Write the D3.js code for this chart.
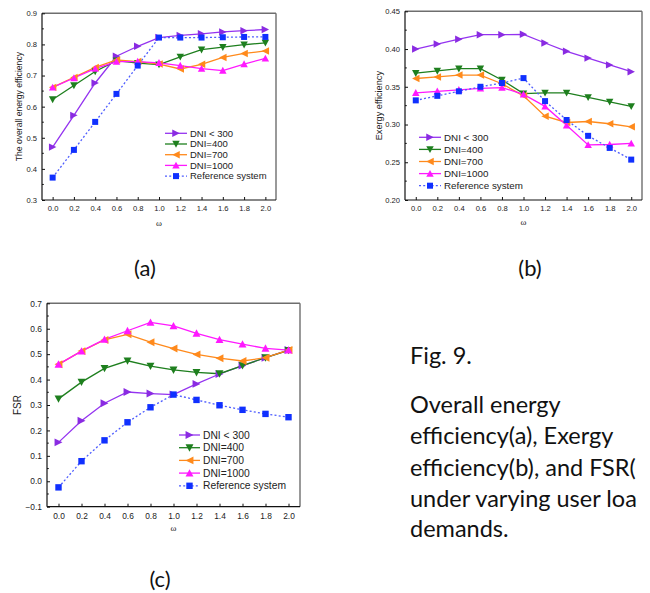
<!DOCTYPE html>
<html><head><meta charset="utf-8">
<script src="https://cdn.jsdelivr.net/npm/d3@7/dist/d3.min.js"></script>
<style>body{margin:0;background:#fff}svg{display:block}</style>
</head><body>
<svg id="c" width="650" height="593"></svg>
<script>
// ---- data ----
const omega = [0.0,0.2,0.4,0.6,0.8,1.0,1.2,1.4,1.6,1.8,2.0];
const xTicks = [0.0,0.2,0.4,0.6,0.8,1.0,1.2,1.4,1.6,1.8,2.0];
const seriesNames = ["DNI < 300","DNI=400","DNI=700","DNI=1000","Reference system"];

const energyDNI300  = [0.470,0.572,0.676,0.762,0.794,0.822,0.829,0.834,0.840,0.844,0.848];
const energyDNI400  = [0.623,0.668,0.713,0.748,0.740,0.735,0.760,0.783,0.791,0.799,0.805];
const energyDNI700  = [0.662,0.694,0.726,0.750,0.745,0.737,0.721,0.736,0.758,0.771,0.779];
const energyDNI1000 = [0.662,0.692,0.722,0.745,0.745,0.741,0.732,0.722,0.716,0.737,0.755];
const energyRef     = [0.372,0.461,0.551,0.641,0.732,0.822,0.822,0.822,0.823,0.824,0.824];
const energyYTicks  = [0.3,0.4,0.5,0.6,0.7,0.8,0.9];

const exergyDNI300  = [0.400,0.4066,0.413,0.419,0.419,0.4195,0.408,0.397,0.388,0.379,0.370];
const exergyDNI400  = [0.368,0.371,0.374,0.374,0.359,0.341,0.342,0.342,0.336,0.330,0.324];
const exergyDNI700  = [0.361,0.363,0.3655,0.3655,0.354,0.338,0.311,0.3027,0.304,0.301,0.297];
const exergyDNI1000 = [0.342,0.344,0.346,0.348,0.349,0.340,0.324,0.299,0.273,0.2735,0.275];
const exergyRef     = [0.332,0.338,0.344,0.350,0.355,0.3615,0.331,0.306,0.285,0.269,0.2535];
const exergyYTicks  = [0.20,0.25,0.30,0.35,0.40,0.45];

const fsrDNI300  = [0.153,0.238,0.307,0.351,0.345,0.341,0.383,0.422,0.455,0.486,0.516];
const fsrDNI400  = [0.324,0.390,0.444,0.474,0.453,0.438,0.428,0.423,0.455,0.486,0.515];
const fsrDNI700  = [0.460,0.512,0.556,0.578,0.547,0.522,0.499,0.484,0.473,0.486,0.516];
const fsrDNI1000 = [0.460,0.512,0.558,0.592,0.625,0.611,0.582,0.557,0.539,0.523,0.516];
const fsrRef     = [-0.024,0.079,0.161,0.232,0.291,0.341,0.320,0.299,0.281,0.265,0.252];
const fsrYTicks  = [-0.1,0.0,0.1,0.2,0.3,0.4,0.5,0.6,0.7];

const captionLines = ["Fig. 9.","Overall energy","efficiency(a), Exergy","efficiency(b), and FSR(","under varying user loa","demands."];

// ---- styles ----
const colors = ["#8A2BE2","#1E7F1E","#FF8A1C","#FF19FF","#1030FF"];
const lineColors = ["#9433F0","#1E7F1E","#FF8A1C","#FF19FF","#4D5CFF"];
const shapes = ["right","down","left","up","square"];

const svg = d3.select("#c");
const FONT = "'Liberation Sans', Arial, sans-serif";

function marker(g, shape, x, y, s, col){
  let p;
  if(shape==="square"){
    g.append("rect").attr("x",x-s*0.5).attr("y",y-s*0.5).attr("width",s).attr("height",s).attr("fill",col);
    return;
  }
  const h = s*0.62;
  if(shape==="right") p=[[x-h,y-h],[x+h,y],[x-h,y+h]];
  if(shape==="left")  p=[[x+h,y-h],[x-h,y],[x+h,y+h]];
  if(shape==="up")    p=[[x-h,y+h*0.85],[x+h,y+h*0.85],[x,y-h]];
  if(shape==="down")  p=[[x-h,y-h*0.85],[x+h,y-h*0.85],[x,y+h]];
  g.append("polygon").attr("points",p.map(d=>d.join(",")).join(" ")).attr("fill",col);
}

function panel(cfg){
  const {x0,x1,y0,y1,yDomain,yTicks,yFmt,series,ylabel,ylabelX,tickFont,legend,omegaY,msize} = cfg;
  const g = svg.append("g");
  const x = d3.scaleLinear().domain([-0.1,2.1]).range([x0,x1]);
  const y = d3.scaleLinear().domain(yDomain).range([y1,y0]);

  series.forEach((vals,i)=>{
    const line = d3.line().x((d,k)=>x(omega[k])).y(d=>y(d));
    g.append("path").attr("d",line(vals)).attr("fill","none")
      .attr("stroke",lineColors[i]).attr("stroke-width",1.3)
      .attr("stroke-dasharray", i===4 ? "2,2.2" : null);
  });
  series.forEach((vals,i)=>{
    vals.forEach((v,k)=>marker(g,shapes[i],x(omega[k]),y(v),msize,colors[i]));
  });

  g.append("line").attr("x1",x0).attr("x2",x1).attr("y1",y0).attr("y2",y0).attr("stroke","#6e6e6e").attr("stroke-width",1.4);
  g.append("line").attr("x1",x1).attr("x2",x1).attr("y1",y0).attr("y2",y1).attr("stroke","#6e6e6e").attr("stroke-width",1.4);

  const xa = d3.axisBottom(x).tickValues(xTicks).tickSize(-3).tickPadding(6).tickFormat(d3.format(".1f"));
  const gx = g.append("g").attr("transform",`translate(0,${y1})`).call(xa);
  gx.select(".domain").attr("d",`M${x0},0H${x1}`).attr("stroke","#111").attr("stroke-width",1.2);
  gx.selectAll("text").attr("font-family",FONT).attr("font-size",tickFont).attr("fill","#222");
  gx.selectAll(".tick line").attr("stroke","#111");

  const ya = d3.axisLeft(y).tickValues(yTicks).tickSize(-3).tickPadding(5).tickFormat(d3.format(yFmt));
  const gy = g.append("g").attr("transform",`translate(${x0},0)`).call(ya);
  gy.select(".domain").attr("d",`M0,${y0}V${y1}`).attr("stroke","#111").attr("stroke-width",1.2);
  gy.selectAll("text").attr("font-family",FONT).attr("font-size",tickFont).attr("fill","#222");
  gy.selectAll(".tick line").attr("stroke","#111");
  for(let k=0;k<yTicks.length-1;k++){
    const m=(yTicks[k]+yTicks[k+1])/2;
    g.append("line").attr("x1",x0).attr("x2",x0+1.8).attr("y1",y(m)).attr("y2",y(m)).attr("stroke","#111");
  }

  g.append("text").attr("transform",`translate(${ylabelX},${(y0+y1)/2}) rotate(-90)`)
    .attr("text-anchor","middle").attr("font-family",FONT).attr("font-size",cfg.ylabelFont)
    .attr("fill","#222").text(ylabel);
  g.append("text").attr("x",(x0+x1)/2).attr("y",omegaY).attr("text-anchor","middle")
    .attr("font-family","'Liberation Serif', serif").attr("font-size",9).attr("fill","#222").text("ω");

  const lg = g.append("g");
  seriesNames.forEach((name,i)=>{
    const yy = legend.y + i*legend.dy;
    lg.append("line").attr("x1",legend.x).attr("x2",legend.x+legend.w).attr("y1",yy).attr("y2",yy)
      .attr("stroke",lineColors[i]).attr("stroke-width",1.3).attr("stroke-dasharray", i===4 ? "2,2.2" : null);
    marker(lg,shapes[i],legend.x+legend.w/2,yy,msize,colors[i]);
    lg.append("text").attr("x",legend.x+legend.w+3).attr("y",yy).attr("dy","0.35em")
      .attr("font-family",FONT).attr("font-size",legend.font).attr("fill","#222").text(name);
  });
}

panel({x0:42,x1:276,y0:13.3,y1:200,yDomain:[0.3,0.9],yTicks:energyYTicks,yFmt:".1f",
  series:[energyDNI300,energyDNI400,energyDNI700,energyDNI1000,energyRef],
  ylabel:"The overall energy efficiency",ylabelX:22,ylabelFont:8.6,tickFont:7.6,
  legend:{x:165,y:133.3,dy:10.7,w:22,font:9.5},omegaY:226,msize:6});

panel({x0:405,x1:642,y0:11.3,y1:200,yDomain:[0.2,0.45],yTicks:exergyYTicks,yFmt:".2f",
  series:[exergyDNI300,exergyDNI400,exergyDNI700,exergyDNI1000,exergyRef],
  ylabel:"Exergy efficiency",ylabelX:382,ylabelFont:9.2,tickFont:7.6,
  legend:{x:419,y:137.3,dy:12.1,w:22,font:9.8},omegaY:225,msize:6});

panel({x0:47,x1:300,y0:303.3,y1:506.7,yDomain:[-0.1,0.7],yTicks:fsrYTicks,yFmt:".1f",
  series:[fsrDNI300,fsrDNI400,fsrDNI700,fsrDNI1000,fsrRef],
  ylabel:"FSR",ylabelX:21,ylabelFont:10,tickFont:8.4,
  legend:{x:179,y:435,dy:12.7,w:21,font:10.3},omegaY:531,msize:6.4});

const pl = [["(a)",145,276],["(b)",530,276],["(c)",160,587]];
pl.forEach(([t,x,y])=>svg.append("text").attr("x",x).attr("y",y).attr("text-anchor","middle")
  .attr("font-family","Lato, 'Open Sans', sans-serif").attr("font-size",22).attr("fill","#111").text(t));

const capY = [364,413,444,476,507,537];
captionLines.forEach((t,i)=>svg.append("text").attr("x",410).attr("y",capY[i])
  .attr("font-family","Lato, 'Open Sans', sans-serif").attr("font-size",23.5).attr("fill","#111").text(t));
</script>
</body></html>
